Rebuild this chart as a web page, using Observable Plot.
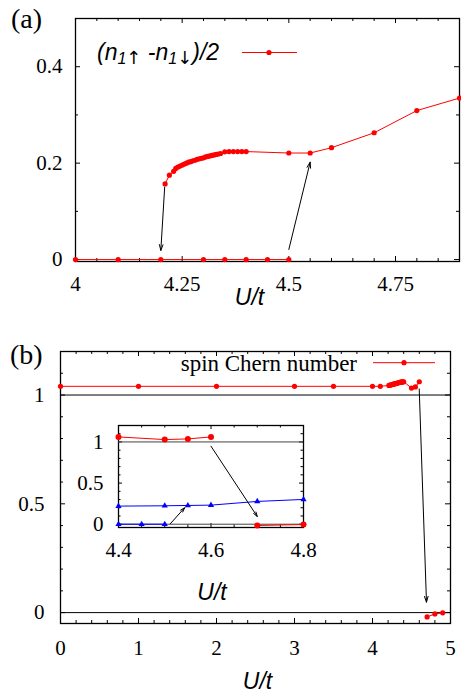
<!DOCTYPE html>
<html><head><meta charset="utf-8">
<script src="https://cdn.jsdelivr.net/npm/d3@7"></script>
<script src="https://cdn.jsdelivr.net/npm/@observablehq/plot@0.6"></script>
<style>
body{margin:0;background:#fff;}
#wrap{position:relative;width:461px;height:694px;overflow:hidden;background:#fff;}
#wrap svg{position:absolute;}
</style></head><body><div id="wrap"></div>
<script>
// ---------- Panel (a): magnetization (n1up - n1down)/2 vs U/t ----------
const magLowU = [4.0, 4.1, 4.2, 4.3, 4.35, 4.4, 4.45, 4.5];
const magLowV = [0, 0, 0, 0, 0, 0, 0, 0];
const magUpU = [4.21, 4.22, 4.23, 4.235, 4.24, 4.245, 4.25, 4.255, 4.26, 4.265, 4.27, 4.275, 4.28, 4.285, 4.29, 4.295, 4.30, 4.305, 4.31, 4.315, 4.32, 4.325, 4.33, 4.335, 4.34, 4.35, 4.36, 4.37, 4.38, 4.39, 4.40, 4.5, 4.55, 4.6, 4.7, 4.8, 4.9];
const magUpV = [0.157, 0.175, 0.183, 0.189, 0.192, 0.194, 0.196, 0.198, 0.200, 0.202, 0.203, 0.205, 0.206, 0.208, 0.209, 0.210, 0.211, 0.213, 0.214, 0.215, 0.216, 0.217, 0.218, 0.219, 0.220, 0.2235, 0.224, 0.224, 0.224, 0.224, 0.224, 0.221, 0.221, 0.232, 0.263, 0.309, 0.335];
const magXTicks = [4, 4.25, 4.5, 4.75];
const magYTicks = [0, 0.2, 0.4];
const magArrows = [
  {x1: 4.209, y1: 0.150, x2: 4.200, y2: 0.019},
  {x1: 4.500, y1: 0.021, x2: 4.550, y2: 0.202}
];

// ---------- Panel (b): spin Chern number vs U/t ----------
const chernUpU = [0, 1, 2, 3, 3.5, 4.0, 4.1, 4.21, 4.22, 4.23, 4.24, 4.25, 4.26, 4.27, 4.28, 4.29, 4.30, 4.31, 4.32, 4.33, 4.34, 4.35, 4.36, 4.37, 4.38, 4.39, 4.40, 4.5, 4.55, 4.6];
const chernUpV = [1.04, 1.04, 1.04, 1.04, 1.04, 1.04, 1.04, 1.044, 1.045, 1.046, 1.047, 1.048, 1.049, 1.050, 1.051, 1.052, 1.053, 1.054, 1.055, 1.056, 1.057, 1.058, 1.059, 1.059, 1.060, 1.060, 1.061, 1.032, 1.037, 1.061];
const chernLowU = [4.7, 4.8, 4.9];
const chernLowV = [-0.020, -0.006, -0.001];
const chernXTicks = [0, 1, 2, 3, 4, 5];
const chernYTicks = [0, 0.5, 1];
const chernArrows = [{x1: 4.599, y1: 1.028, x2: 4.692, y2: 0.048}];

// ---------- Inset ----------
const insetRedUpU = [4.4, 4.5, 4.55, 4.6];
const insetRedUpV = [1.061, 1.029, 1.037, 1.061];
const insetRedLowU = [4.7, 4.8];
const insetRedLowV = [-0.016, -0.004];
const insetBlueLowU = [4.4, 4.45, 4.5];
const insetBlueLowV = [0, 0, 0];
const insetBlueUpU = [4.4, 4.5, 4.55, 4.6, 4.7, 4.8];
const insetBlueUpV = [0.220, 0.224, 0.228, 0.232, 0.277, 0.301];
const insetXTicks = [4.4, 4.6, 4.8];
const insetYTicks = [0, 0.5, 1];
const insetArrows = [
  {x1: 4.600, y1: 0.948, x2: 4.700, y2: 0.094},
  {x1: 4.512, y1: 0.005, x2: 4.543, y2: 0.200}
];

const RED = "#ff0000", BLUE = "#0000ff";
const rows = (us, vs, branch) => us.map((u, i) => ({u, v: vs[i], branch}));

function frameTicks(xMaj, xMin, yMaj, yMin, W, H, maj = 5, mn = 3) {
  const s = {stroke: "black", strokeWidth: 1};
  return [
    Plot.tickX(xMaj, {x: d => d, insetTop: H - maj, ...s}),
    Plot.tickX(xMaj, {x: d => d, insetBottom: H - maj, ...s}),
    Plot.tickX(xMin, {x: d => d, insetTop: H - mn, ...s}),
    Plot.tickX(xMin, {x: d => d, insetBottom: H - mn, ...s}),
    Plot.tickY(yMaj, {y: d => d, insetRight: W - maj, ...s}),
    Plot.tickY(yMaj, {y: d => d, insetLeft: W - maj, ...s}),
    Plot.tickY(yMin, {y: d => d, insetRight: W - mn, ...s}),
    Plot.tickY(yMin, {y: d => d, insetLeft: W - mn, ...s})
  ];
}
const notIn = (arr) => (d) => !arr.some(m => Math.abs(m - d) < 1e-9);
const baseStyle = {fontFamily: "Liberation Serif", fontSize: "21px", background: "transparent", color: "black", overflow: "visible"};
const labelText = (dx, dy) => Plot.text(["U/t"], {text: d => d, frameAnchor: "bottom", dx, dy, fontFamily: "Liberation Sans", fontStyle: "italic", fontSize: 23, fill: "black"});

const wrap = document.getElementById("wrap");

// ----- Panel (a) -----
{
  const mL = 75, mR = 2, mT = 18, mB = 49, width = 461, height = 310;
  const W = width - mL - mR, H = height - mT - mB;
  const data = rows(magLowU, magLowV, "low").concat(rows(magUpU, magUpV, "up"));
  const xMin = d3.range(4, 4.9001, 0.05).map(d => +d.toFixed(2)).filter(notIn(magXTicks));
  const yMin = [0.1, 0.3];
  const p = Plot.plot({
    width, height, marginLeft: mL, marginRight: mR, marginTop: mT, marginBottom: mB,
    x: {domain: [4, 4.9]}, y: {domain: [-0.004, 0.5]},
    style: baseStyle,
    marks: [
      Plot.frame({stroke: "black", strokeWidth: 1.3}),
      ...frameTicks(magXTicks, xMin, magYTicks, yMin, W, H),
      Plot.axisX(magXTicks, {tickSize: 0, tickPadding: 15, tickFormat: d => String(d), label: null}),
      Plot.axisY(magYTicks, {tickSize: 0, tickPadding: 13, tickFormat: d => String(d), label: null}),
      Plot.line(data, {x: "u", y: "v", z: "branch", stroke: RED, strokeWidth: 1}),
      Plot.dot(data, {x: "u", y: "v", fill: RED, r: 2.6}),
      Plot.arrow(magArrows, {x1: "x1", y1: "y1", x2: "x2", y2: "y2", stroke: "black", strokeWidth: 1, headLength: 9, headAngle: 35}),
      labelText(-18, 43)
    ]
  });
  p.style.left = "0px"; p.style.top = "0px";
  wrap.appendChild(p);
  const s = d3.select(p);
  s.append("text").attr("x", 11).attr("y", 28).attr("text-anchor", "start").attr("font-family", "Liberation Serif").attr("font-size", 28).attr("fill", "black").text("(a)");
  const t = s.append("text").attr("x", 97).attr("y", 60).attr("text-anchor", "start").attr("font-family", "Liberation Sans").attr("font-style", "italic").attr("font-size", 23).attr("fill", "black");
  t.append("tspan").text("(n");
  t.append("tspan").attr("font-size", 16).attr("dy", 4).text("1");
  t.append("tspan").attr("font-size", 18).attr("font-family", "DejaVu Sans").attr("font-style", "normal").text("\u2191");
  t.append("tspan").attr("dy", -4).text(" -n");
  t.append("tspan").attr("font-size", 16).attr("dy", 4).text("1");
  t.append("tspan").attr("font-size", 18).attr("font-family", "DejaVu Sans").attr("font-style", "normal").text("\u2193");
  t.append("tspan").attr("dy", -4).text(")/2");
  s.append("line").attr("x1", 242).attr("x2", 297).attr("y1", 52.5).attr("y2", 52.5).attr("stroke", RED).attr("stroke-width", 1);
  s.append("circle").attr("cx", 269).attr("cy", 52.5).attr("r", 2.6).attr("fill", RED);
}

// ----- Panel (b) -----
{
  const mL = 60, mR = 11, mT = 41, mB = 71, width = 461, height = 384;
  const W = width - mL - mR, H = height - mT - mB;
  const data = rows(chernUpU, chernUpV, "up").concat(rows(chernLowU, chernLowV, "low"));
  const xMin = d3.range(0, 5.0001, 0.2).map(d => +d.toFixed(2)).filter(notIn(chernXTicks));
  const yMin = d3.range(0.1, 1.2, 0.1).map(d => +d.toFixed(2)).filter(notIn(chernYTicks));
  const p = Plot.plot({
    width, height, marginLeft: mL, marginRight: mR, marginTop: mT, marginBottom: mB,
    x: {domain: [0, 5]}, y: {domain: [-0.05, 1.2]},
    style: baseStyle,
    marks: [
      Plot.frame({stroke: "black", strokeWidth: 1.3}),
      ...frameTicks(chernXTicks, xMin, chernYTicks, yMin, W, H),
      Plot.ruleY(chernYTicks.filter(d => d !== 0.5), {stroke: "black", strokeWidth: 1}),
      Plot.axisX(chernXTicks, {tickSize: 0, tickPadding: 17, tickFormat: d => String(d), label: null}),
      Plot.axisY(chernYTicks, {tickSize: 0, tickPadding: 16, tickFormat: d => String(d), label: null}),
      Plot.line(data, {x: "u", y: "v", z: "branch", stroke: RED, strokeWidth: 1}),
      Plot.dot(data, {x: "u", y: "v", fill: RED, r: 2.6}),
      Plot.arrow(chernArrows, {x1: "x1", y1: "y1", x2: "x2", y2: "y2", stroke: "black", strokeWidth: 1, headLength: 9, headAngle: 35}),
      labelText(2, 65)
    ]
  });
  p.style.left = "0px"; p.style.top = "310px";
  wrap.appendChild(p);
  const s = d3.select(p);
  s.append("text").attr("x", 10).attr("y", 54).attr("text-anchor", "start").attr("font-family", "Liberation Serif").attr("font-size", 28).attr("fill", "black").text("(b)");
  s.append("text").attr("x", 357).attr("y", 61).attr("text-anchor", "end").attr("font-family", "Liberation Serif").attr("font-size", 23).attr("fill", "black").text("spin Chern number");
  s.append("line").attr("x1", 373).attr("x2", 435).attr("y1", 52.7).attr("y2", 52.7).attr("stroke", RED).attr("stroke-width", 1);
  s.append("circle").attr("cx", 404).attr("cy", 52.7).attr("r", 2.6).attr("fill", RED);
}

// ----- Inset -----
{
  const mL = 48, mR = 17, mT = 15, mB = 73, width = 250, height = 190;
  const W = width - mL - mR, H = height - mT - mB;
  const red = rows(insetRedUpU, insetRedUpV, "up").concat(rows(insetRedLowU, insetRedLowV, "low"));
  const blue = rows(insetBlueLowU, insetBlueLowV, "low").concat(rows(insetBlueUpU, insetBlueUpV, "up"));
  const xMin = d3.range(4.4, 4.8001, 0.05).map(d => +d.toFixed(2)).filter(notIn(insetXTicks));
  const yMin = d3.range(0.1, 1.2, 0.1).map(d => +d.toFixed(2)).filter(notIn(insetYTicks));
  const p = Plot.plot({
    width, height, marginLeft: mL, marginRight: mR, marginTop: mT, marginBottom: mB,
    x: {domain: [4.4, 4.8]}, y: {domain: [-0.04, 1.2]},
    style: baseStyle,
    marks: [
      Plot.frame({stroke: "black", strokeWidth: 1.3, fill: "white"}),
      ...frameTicks(insetXTicks, xMin, insetYTicks, yMin, W, H, 4, 2.5),
      Plot.ruleY(insetYTicks.filter(d => d !== 0.5), {stroke: "#444", strokeWidth: 1}),
      Plot.axisX(insetXTicks, {tickSize: 0, tickPadding: 15, tickFormat: d => String(d), label: null}),
      Plot.axisY(insetYTicks, {tickSize: 0, tickPadding: 15, tickFormat: d => String(d), label: null}),
      Plot.line(blue, {x: "u", y: "v", z: "branch", stroke: BLUE, strokeWidth: 1}),
      Plot.dot(blue, {x: "u", y: "v", fill: BLUE, symbol: "triangle", r: 2.3}),
      Plot.line(red, {x: "u", y: "v", z: "branch", stroke: RED, strokeWidth: 1}),
      Plot.dot(red, {x: "u", y: "v", fill: RED, r: 3}),
      Plot.arrow(insetArrows, {x1: "x1", y1: "y1", x2: "x2", y2: "y2", stroke: "black", strokeWidth: 1, headLength: 7, headAngle: 35}),
      labelText(1, 72)
    ]
  });
  p.style.left = "70px"; p.style.top = "410px";
  wrap.appendChild(p);
}
</script></body></html>
